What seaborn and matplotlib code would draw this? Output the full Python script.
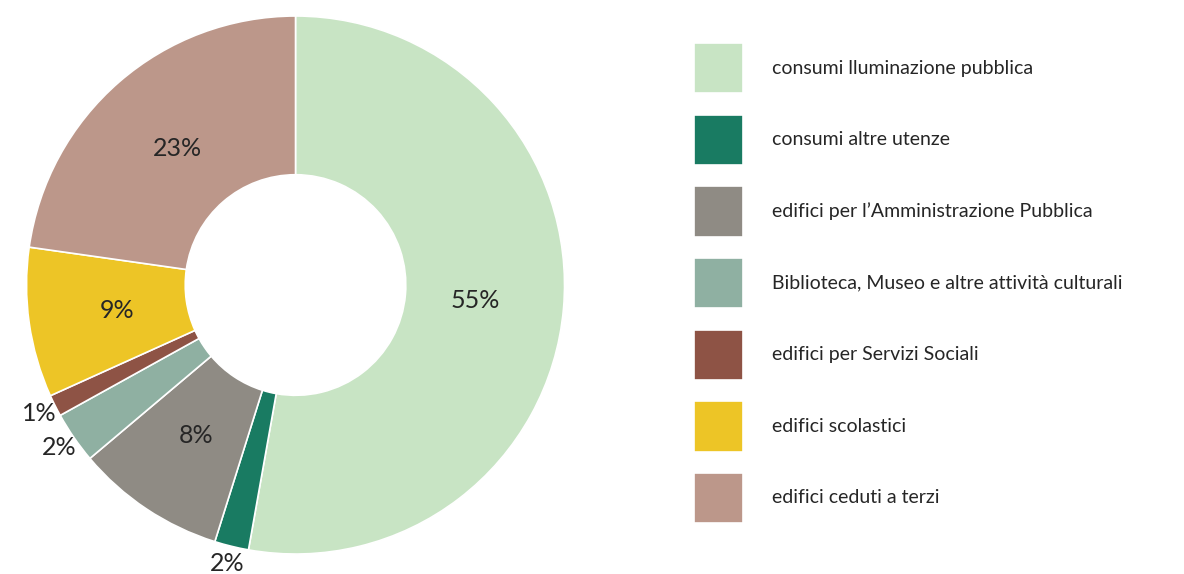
import numpy as np
import seaborn as sns
import matplotlib.pyplot as plt

# categories and shares (read from the drawn wedges) plus printed labels
categories = [
    "consumi lluminazione pubblica",
    "consumi altre utenze",
    "edifici per l\u2019Amministrazione Pubblica",
    "Biblioteca, Museo e altre attivit\u00e0 culturali",
    "edifici per Servizi Sociali",
    "edifici scolastici",
    "edifici ceduti a terzi",
]
shares = [52.8, 2.05, 9.0, 3.1, 1.3, 9.0, 22.75]
pct_labels = ["55%", "2%", "8%", "2%", "1%", "9%", "23%"]
outside = [False, True, False, True, True, False, False]
colors = ["#C8E4C4", "#197B62", "#8F8B84", "#8FB0A2", "#8E5345", "#EDC526", "#BC978A"]

sns.set_style("white")
plt.rcParams["font.family"] = ["Lato", "DejaVu Sans"]

fig = plt.figure(figsize=(11.84, 5.74), dpi=100)
ax = fig.add_axes([0.0224, 0.0348, 0.4544, 0.9373])

wedges, _ = ax.pie(shares, colors=colors, startangle=90, counterclock=False,
                   radius=1.0, wedgeprops=dict(width=0.59, edgecolor="white", linewidth=1.2))
ax.set_xlim(-1, 1)
ax.set_ylim(-1, 1)
ax.set_aspect("equal")
ax.axis("off")

# percent labels
for w, lab, out in zip(wedges, pct_labels, outside):
    ang = np.deg2rad((w.theta1 + w.theta2) / 2)
    r = 1.065 if out else 0.67
    ax.text(r * np.cos(ang), r * np.sin(ang), lab, ha="center", va="center",
            fontsize=18, color="#262626")

fig.legend(wedges, categories, loc="upper left", bbox_to_anchor=(0.586, 0.925),
           frameon=False, fontsize=14, handlelength=2.55, handleheight=3.6,
           labelspacing=1.1, handletextpad=1.45, labelcolor="#262626",
           borderaxespad=0, borderpad=0)

fig.savefig("out.png", dpi=100)
